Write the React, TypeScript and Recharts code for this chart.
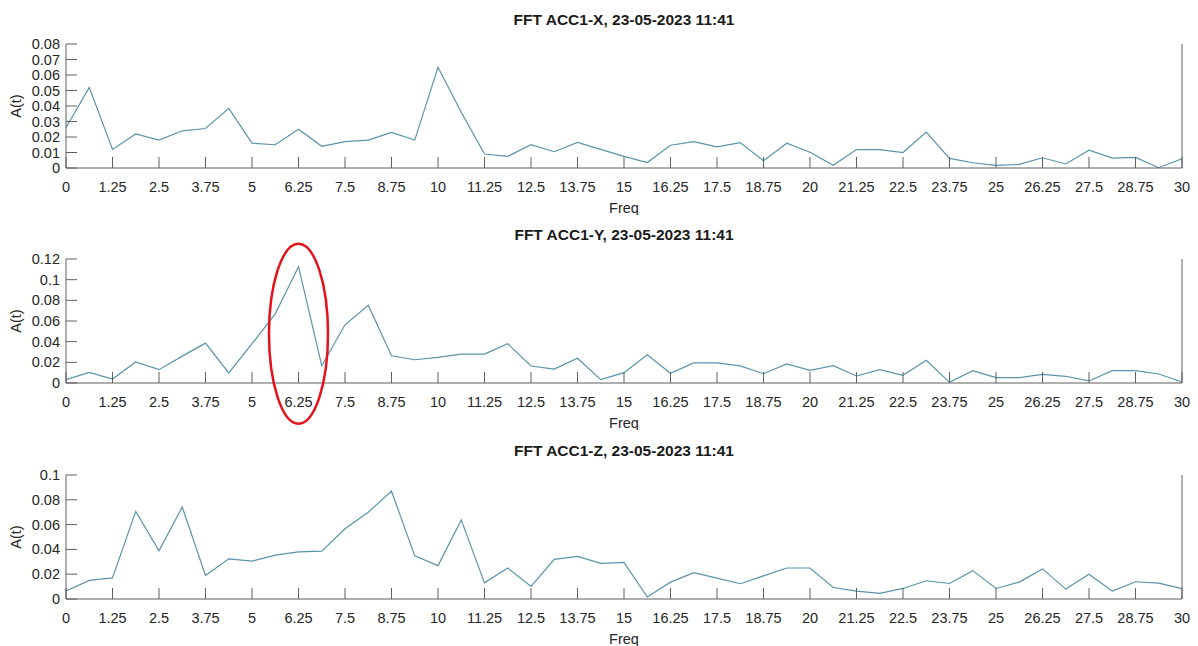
import React from "react";
import { LineChart, Line, XAxis, YAxis, ReferenceDot } from "recharts";

// frequency bins (Hz)
const FREQ = [
  0, 0.625, 1.25, 1.875, 2.5, 3.125, 3.75, 4.375, 5, 5.625, 6.25, 6.875, 7.5,
  8.125, 8.75, 9.375, 10, 10.625, 11.25, 11.875, 12.5, 13.125, 13.75, 14.375,
  15, 15.625, 16.25, 16.875, 17.5, 18.125, 18.75, 19.375, 20, 20.625, 21.25,
  21.875, 22.5, 23.125, 23.75, 24.375, 25, 25.625, 26.25, 26.875, 27.5, 28.125,
  28.75, 29.375, 30,
];

const ACC_X = [
  0.026, 0.052, 0.012, 0.022, 0.018, 0.024, 0.0255, 0.0385, 0.016, 0.015,
  0.025, 0.014, 0.017, 0.018, 0.023, 0.018, 0.065, 0.036, 0.009, 0.0075,
  0.015, 0.0105, 0.0165, 0.012, 0.0075, 0.0035, 0.0147, 0.017, 0.0136, 0.0164,
  0.0047, 0.016, 0.0102, 0.0017, 0.0119, 0.0119, 0.01, 0.0232, 0.0062, 0.0034,
  0.0017, 0.0023, 0.0066, 0.0026, 0.0115, 0.0064, 0.0068, 0.0002, 0.006,
];

const ACC_Y = [
  0.0032, 0.0103, 0.0039, 0.0203, 0.0129, 0.026, 0.0386, 0.0097, 0.038,
  0.0669, 0.1126, 0.0167, 0.0563, 0.0753, 0.0264, 0.0225, 0.0248, 0.028, 0.028,
  0.038, 0.0164, 0.0135, 0.024, 0.0032, 0.01, 0.0274, 0.0094, 0.0194, 0.0194,
  0.0165, 0.009, 0.0184, 0.0123, 0.0168, 0.0068, 0.013, 0.0074, 0.022, 0.0006,
  0.012, 0.0052, 0.0052, 0.0084, 0.0065, 0.002, 0.012, 0.012, 0.0087, 0.001,
];

const ACC_Z = [
  0.0064, 0.015, 0.017, 0.0707, 0.0388, 0.0742, 0.019, 0.0324, 0.0306, 0.0354,
  0.038, 0.0386, 0.0566, 0.07, 0.087, 0.0348, 0.0269, 0.0638, 0.013, 0.025,
  0.0101, 0.032, 0.0343, 0.0288, 0.0296, 0.0016, 0.0136, 0.0213, 0.0168,
  0.0123, 0.0187, 0.025, 0.025, 0.0093, 0.0064, 0.0045, 0.0085, 0.0147, 0.0125,
  0.0229, 0.0085, 0.0136, 0.0243, 0.008, 0.02, 0.0064, 0.0139, 0.0128, 0.0083,
];

const FREQ_TICKS = [
  0, 1.25, 2.5, 3.75, 5, 6.25, 7.5, 8.75, 10, 11.25, 12.5, 13.75, 15, 16.25,
  17.5, 18.75, 20, 21.25, 22.5, 23.75, 25, 26.25, 27.5, 28.75, 30,
];
const TICKS_X = [0, 0.01, 0.02, 0.03, 0.04, 0.05, 0.06, 0.07, 0.08];
const TICKS_Y = [0, 0.02, 0.04, 0.06, 0.08, 0.1, 0.12];
const TICKS_Z = [0, 0.02, 0.04, 0.06, 0.08, 0.1];

const TITLES = [
  "FFT ACC1-X, 23-05-2023 11:41",
  "FFT ACC1-Y, 23-05-2023 11:41",
  "FFT ACC1-Z, 23-05-2023 11:41",
];

// the peak that is circled in the Y panel
const HIGHLIGHT = { f: 6.25, a: 0.0476 };

const FONT = '"Liberation Sans", Arial, Helvetica, sans-serif';
const AXIS = "#5f5f5f";
const TEXT = "#262626";
const LINE = "#5a93ab";
const TICK_LEN = 11;
const TICK_FONT = 14.5;

const fmt = (v: number) => String(Number(v.toFixed(3)));

const BottomTick = (p: any) => (
  <g>
    <line x1={p.x} x2={p.x} y1={p.y} y2={p.y - TICK_LEN} stroke={AXIS} />
    <text x={p.x} y={p.y + 23.5} textAnchor="middle" fill={TEXT} fontSize={TICK_FONT} fontFamily={FONT}>
      {fmt(p.payload.value)}
    </text>
  </g>
);

const TopTick = (p: any) => (
  <line x1={p.x} x2={p.x} y1={p.y} y2={p.y + TICK_LEN} stroke={AXIS} />
);

const LeftTick = (p: any) => (
  <g>
    <line x1={p.x} x2={p.x + TICK_LEN} y1={p.y} y2={p.y} stroke={AXIS} />
    <text x={p.x - 6} y={p.y + 5} textAnchor="end" fill={TEXT} fontSize={TICK_FONT} fontFamily={FONT}>
      {fmt(p.payload.value)}
    </text>
  </g>
);

const RightTick = (p: any) => (
  <line x1={p.x} x2={p.x - TICK_LEN} y1={p.y} y2={p.y} stroke={AXIS} />
);

const FreqLabel = (p: any) => {
  const vb = p.viewBox;
  return (
    <text x={vb.x + vb.width / 2} y={vb.y + 44.5} textAnchor="middle" fill={TEXT} fontSize={TICK_FONT} fontFamily={FONT}>
      Freq
    </text>
  );
};

const AmpLabel = (p: any) => {
  const vb = p.viewBox;
  const cx = vb.x + 21;
  const cy = vb.y + vb.height / 2;
  return (
    <text
      x={cx}
      y={cy}
      transform={`rotate(-90, ${cx}, ${cy})`}
      textAnchor="middle"
      fill={TEXT}
      fontSize={TICK_FONT}
      fontFamily={FONT}
    >
      A(t)
    </text>
  );
};

const Ellipse = (p: any) => (
  <ellipse cx={p.cx} cy={p.cy} rx={29.5} ry={90} fill="none" stroke="#e3121b" strokeWidth={2.5} />
);

function Panel({
  title,
  values,
  ticks,
  top,
  circle,
}: {
  title: string;
  values: number[];
  ticks: number[];
  top: number;
  circle?: boolean;
}) {
  const data = FREQ.map((f, i) => ({ f, a: values[i] }));
  const yMax = ticks[ticks.length - 1];
  return (
    <>
      <div
        style={{
          position: "absolute",
          top: top + 12,
          left: 66,
          width: 1116,
          textAlign: "center",
          fontFamily: FONT,
          fontWeight: "bold",
          fontSize: 15.5,
          lineHeight: "15.5px",
          color: "#1a1a1a",
        }}
      >
        {title}
      </div>
      <div style={{ position: "absolute", top, left: 0 }}>
        <LineChart width={1198} height={215} data={data} margin={{ top: 44, right: 0, bottom: 0, left: 0 }}>
          <XAxis
            dataKey="f"
            type="number"
            domain={[0, 30]}
            ticks={FREQ_TICKS}
            interval={0}
            height={47}
            stroke={AXIS}
            tickLine={false}
            tickSize={0}
            tickMargin={0}
            tick={BottomTick}
            label={{ content: FreqLabel }}
          />
          <XAxis
            xAxisId="top"
            orientation="top"
            dataKey="f"
            type="number"
            domain={[0, 30]}
            ticks={FREQ_TICKS}
            interval={0}
            height={0}
            stroke={AXIS}
            tickLine={false}
            tickSize={0}
            tickMargin={0}
            tick={TopTick}
          />
          <YAxis
            type="number"
            domain={[0, yMax]}
            ticks={ticks}
            interval={0}
            width={66}
            stroke={AXIS}
            tickLine={false}
            tickSize={0}
            tickMargin={0}
            tick={LeftTick}
            label={{ content: AmpLabel }}
          />
          <YAxis
            yAxisId="right"
            orientation="right"
            type="number"
            domain={[0, yMax]}
            ticks={ticks}
            interval={0}
            width={16}
            stroke={AXIS}
            tickLine={false}
            tickSize={0}
            tickMargin={0}
            tick={RightTick}
          />
          <Line
            type="linear"
            dataKey="a"
            stroke={LINE}
            strokeWidth={1.2}
            dot={false}
            isAnimationActive={false}
          />
          {circle && (
            <ReferenceDot x={HIGHLIGHT.f} y={HIGHLIGHT.a} ifOverflow="visible" shape={Ellipse} />
          )}
        </LineChart>
      </div>
    </>
  );
}

export default function App() {
  return (
    <div
      style={{
        position: "absolute",
        left: 0,
        top: 0,
        width: 1198,
        height: 646,
        background: "#fff",
        overflow: "hidden",
      }}
    >
      <Panel title={TITLES[0]} values={ACC_X} ticks={TICKS_X} top={0} />
      <Panel title={TITLES[1]} values={ACC_Y} ticks={TICKS_Y} top={215} circle />
      <Panel title={TITLES[2]} values={ACC_Z} ticks={TICKS_Z} top={431} />
    </div>
  );
}
